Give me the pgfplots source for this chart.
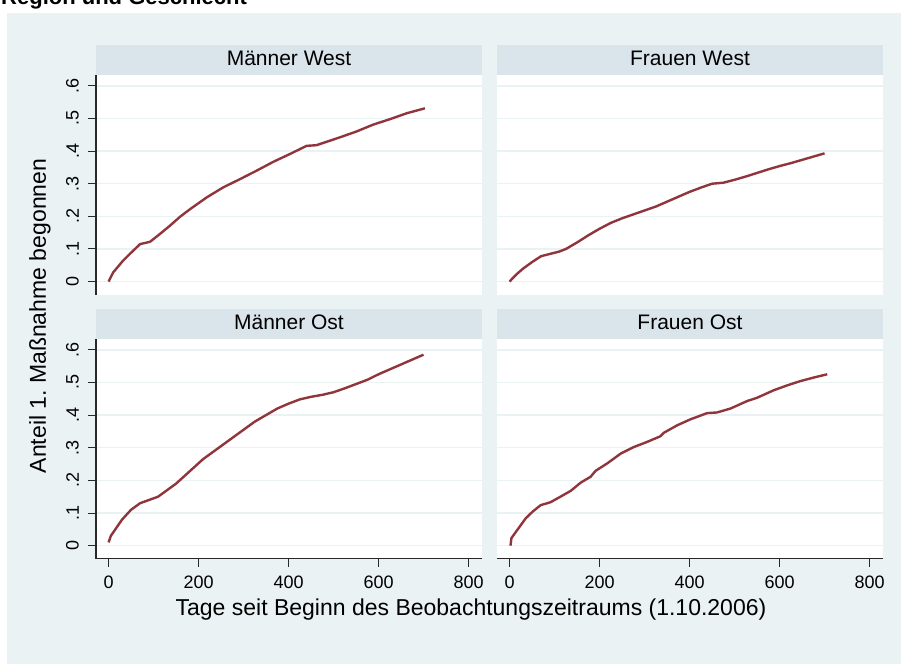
\documentclass[border=0pt]{standalone}
\usepackage{fontspec}
\setmainfont{Liberation Sans}
\usepackage{pgfplots}
\pgfplotsset{compat=1.18}
\frenchspacing
\definecolor{bgc}{RGB}{234,242,243}
\definecolor{hdr}{RGB}{217,229,235}
\definecolor{gridc}{RGB}{234,242,243}
\definecolor{curve}{RGB}{144,53,59}
\definecolor{axc}{RGB}{40,40,40}

\pgfplotstableread{
x y
0 0
10 0.028
32 0.064
51 0.090
70 0.115
92 0.122
114 0.146
136 0.171
159 0.199
181 0.222
218 0.258
255 0.289
292 0.314
329 0.340
366 0.367
403 0.391
440 0.416
462 0.418
514 0.442
551 0.460
588 0.481
626 0.498
663 0.516
703 0.531
}\mw

\pgfplotstableread{
x y
0 0
5 0.008
15 0.022
30 0.040
50 0.060
70 0.078
90 0.085
110 0.092
125 0.100
150 0.120
175 0.142
200 0.162
225 0.180
250 0.194
275 0.206
300 0.218
325 0.230
350 0.245
375 0.260
400 0.275
425 0.288
450 0.300
475 0.303
500 0.312
525 0.322
550 0.333
575 0.344
600 0.354
625 0.363
650 0.373
675 0.383
700 0.393
}\fw

\pgfplotstableread{
x y
0 0.01
5 0.03
15 0.05
30 0.08
50 0.11
70 0.13
90 0.14
110 0.15
130 0.17
150 0.19
170 0.215
190 0.24
210 0.265
230 0.285
250 0.305
275 0.33
300 0.355
325 0.38
350 0.40
375 0.42
400 0.435
425 0.448
450 0.456
475 0.462
500 0.47
525 0.482
550 0.495
575 0.508
600 0.525
625 0.54
650 0.555
675 0.57
700 0.585
}\mo

\pgfplotstableread{
x y
2 0
4 0.023
17 0.048
36 0.084
51 0.104
69 0.124
91 0.133
113 0.150
136 0.168
158 0.193
180 0.211
191 0.229
217 0.252
247 0.282
276 0.302
306 0.318
335 0.335
343 0.346
373 0.369
402 0.387
439 0.406
461 0.408
491 0.420
528 0.443
550 0.453
587 0.476
617 0.491
646 0.504
676 0.515
706 0.525
}\fo

\pgfplotsset{
 panel/.style={
  scale only axis, width=386pt, height=220pt,
  xmin=-28, xmax=830, ymin=-0.04, ymax=0.634,
  axis y line*=left, axis x line*=bottom,
  axis background/.style={fill=white},
  ytick={0,0.1,0.2,0.3,0.4,0.5,0.6},
  yticklabels={0,.1,.2,.3,.4,.5,.6},
  xtick={0,200,400,600,800},
  xticklabels={0,200,400,600,800},
  ymajorgrids, major grid style={gridc, line width=1.5pt},
  clip=false,
  major tick length=8pt,
  tick style={axc, line width=1pt},
  axis line style={axc, line width=1.2pt},
  tick label style={font=\fontsize{18}{20}\selectfont, inner sep=0pt, text=black},
  yticklabel style={rotate=90, anchor=south},
  xticklabel style={anchor=north},
  yticklabel shift=9pt, xticklabel shift=9pt,
  tick align=outside,
 },
 nox/.style={x axis line style={draw=none}, xtick=\empty},
 noy/.style={y axis line style={draw=none}, ytick style={draw=none}, yticklabels={,,,,,,}},
 curvestyle/.style={curve, line width=2.4pt, line join=round},
}
\newcommand{\header}[1]{%
  \fill[hdr] (rel axis cs:0,1) rectangle ([yshift=30pt]rel axis cs:1,1);
  \node[anchor=base, font=\fontsize{21}{24}\selectfont] at ([yshift=9pt]rel axis cs:0.5,1) {#1};
}

\begin{document}
\begin{tikzpicture}[x=1pt,y=1pt]
\useasboundingbox (0,0) rectangle (901,664);
\fill[white] (0,0) rectangle (901,664);
\fill[bgc] (7,0) rectangle (901,651.3);
\begin{scope}
\clip (0,0) rectangle (901,664);
\node[anchor=base west, inner sep=0pt, font=\bfseries\fontsize{22}{26}\selectfont] at (1,659) {Region und Geschlecht};
\end{scope}

\begin{axis}[panel, nox, at={(96pt,369.3pt)}, anchor=south west]
\header{Männer West}
\addplot[curvestyle] table[x=x,y=y] {\mw};
\end{axis}

\begin{axis}[panel, nox, noy, at={(497pt,369.3pt)}, anchor=south west]
\header{Frauen West}
\addplot[curvestyle] table[x=x,y=y] {\fw};
\end{axis}

\begin{axis}[panel, at={(96pt,105.3pt)}, anchor=south west]
\header{Männer Ost}
\addplot[curvestyle] table[x=x,y=y] {\mo};
\end{axis}

\begin{axis}[panel, noy, at={(497pt,105.3pt)}, anchor=south west]
\header{Frauen Ost}
\addplot[curvestyle] table[x=x,y=y] {\fo};
\end{axis}

\node[rotate=90, font=\fontsize{23}{26}\selectfont] at (40,348) {Anteil 1. Maßnahme begonnen};
\node[font=\fontsize{23}{26}\selectfont] at (471,54) {Tage seit Beginn des Beobachtungszeitraums (1.10.2006)};
\end{tikzpicture}
\end{document}
